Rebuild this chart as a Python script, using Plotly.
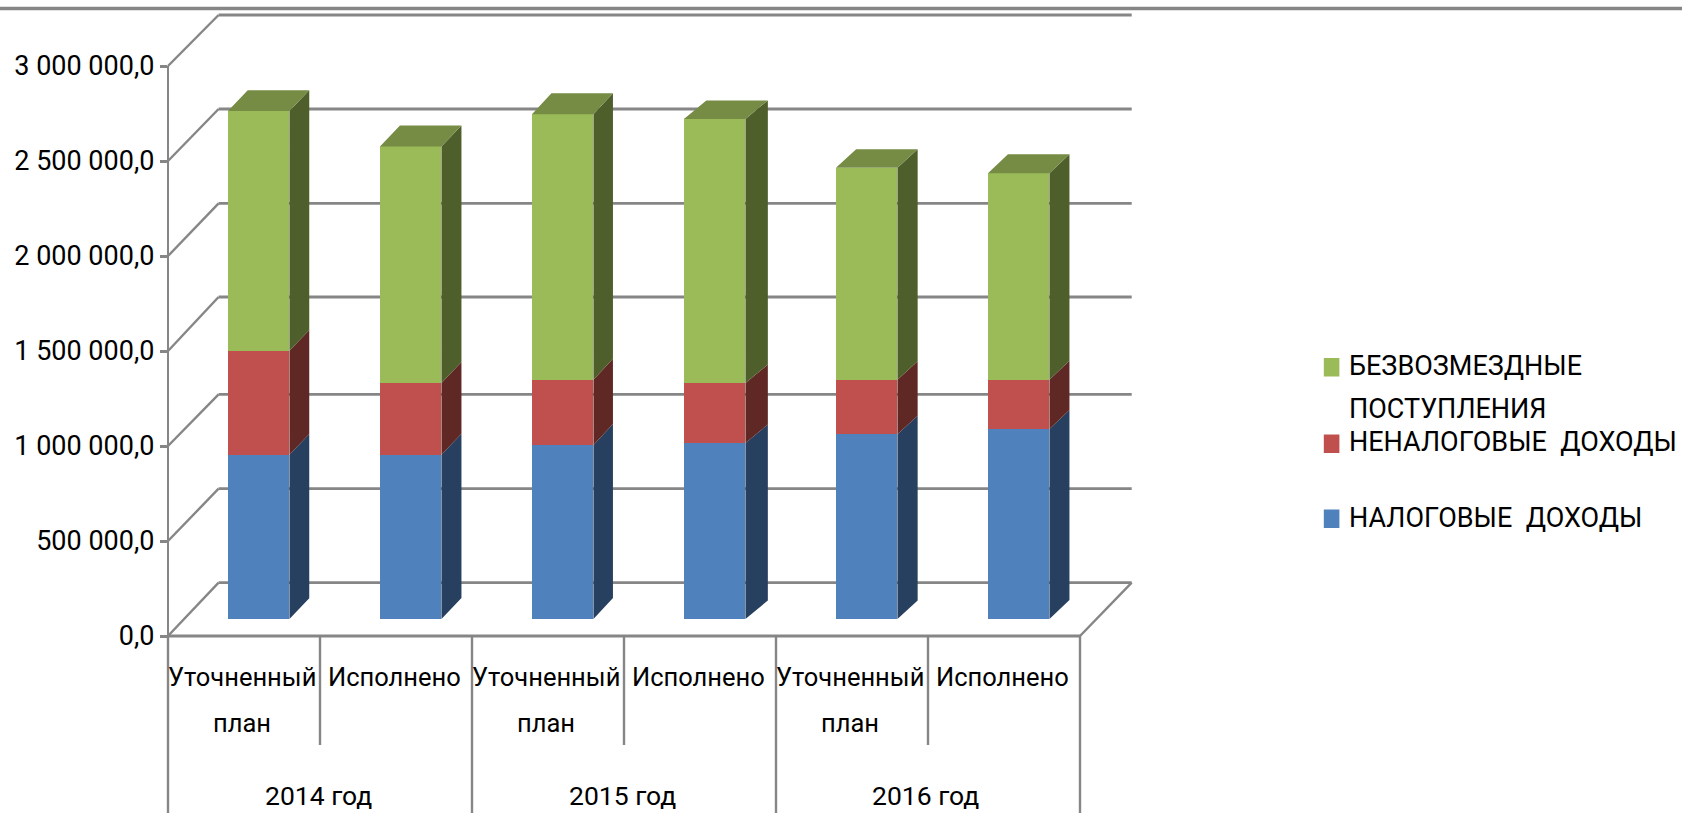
import plotly.graph_objects as go

# ---------- data ----------
plan_labels = [["Уточненный", "план"], ["Исполнено"], ["Уточненный", "план"],
               ["Исполнено"], ["Уточненный", "план"], ["Исполнено"]]
years = ["2014 год", "2015 год", "2016 год"]
tax = [868000, 868000, 920000, 930000, 976000, 1004000]
nontax = [549500, 379000, 345000, 317000, 289000, 261000]
grants = [1267500, 1251000, 1403000, 1396000, 1120000, 1091000]
tick_vals = [0, 500000, 1000000, 1500000, 2000000, 2500000, 3000000]
tick_text = ["0,0", "500 000,0", "1 000 000,0", "1 500 000,0",
             "2 000 000,0", "2 500 000,0", "3 000 000,0"]
legend_names = {"grants": "БЕЗВОЗМЕЗДНЫЕ<br>ПОСТУПЛЕНИЯ",
                "nontax": "НЕНАЛОГОВЫЕ  ДОХОДЫ",
                "tax": "НАЛОГОВЫЕ  ДОХОДЫ"}

# ---------- layout constants (pixels) ----------
W, H = 1682, 813
FONT = "Roboto"
FS = 27
AX_L, AX_R = 168.0, 1080.0
STEP = (AX_R - AX_L) / 6
BACK_L, BACK_R = 218.6, 1131.7
FRONT_0, FRONT_3M = 636.0, 66.0
BACK_Y = [582.7, 488.7, 394.3, 297.0, 203.3, 109.0, 15.0]
BAR_BASE = 619.0
PX_PER_UNIT = 189.2e-6
GRID = "#868686"

xp = lambda p: p / W
yp = lambda p: 1 - p / H

x_rng = [(0 - AX_L) / STEP - 0.5, (W - AX_L) / STEP - 0.5]
y_rng = [(BAR_BASE - H) / PX_PER_UNIT, BAR_BASE / PX_PER_UNIT]
SHIFT = 14.7 / STEP
BAR_W = 61.5 / STEP
# depth of the pseudo-3D box, per column (the source's perspective varies slightly)
DEPTH_X = [d / STEP for d in (19.8, 20.0, 19.5, 22.4, 20.2, 20.0)]
DEPTH_Y = [d / PX_PER_UNIT for d in (20.7, 21.0, 21.0, 18.5, 18.5, 19.0)]

centers = [i + SHIFT for i in range(6)]

series = [
    ("tax", tax, "#4F81BD", "#284060"),
    ("nontax", nontax, "#C0504D", "#602825"),
    ("grants", grants, "#9BBB59", "#4F5F2C"),
]

fig = go.Figure()

# front faces
for key, vals, front, side in series:
    fig.add_trace(go.Bar(x=centers, y=vals, width=BAR_W, name=legend_names[key].replace("<br>", " "),
                         marker=dict(color=front, line=dict(width=0)), showlegend=False))

# side faces
bottom = [0] * 6
for key, vals, front, side in series:
    xs, ys = [], []
    for c, b, v, dx, dy in zip(centers, bottom, vals, DEPTH_X, DEPTH_Y):
        r = c + BAR_W / 2
        xs += [r, r + dx, r + dx, r, r, None]
        ys += [b, b + dy, b + v + dy, b + v, b, None]
    fig.add_trace(go.Scatter(x=xs, y=ys, mode="lines", fill="toself", fillcolor=side,
                             line=dict(width=0, color=side), hoverinfo="skip", showlegend=False))
    bottom = [b + v for b, v in zip(bottom, vals)]

# top faces
xs, ys = [], []
for c, t, dx, dy in zip(centers, bottom, DEPTH_X, DEPTH_Y):
    l, r = c - BAR_W / 2, c + BAR_W / 2
    xs += [l, r, r + dx, l + dx, l, None]
    ys += [t, t, t + dy, t + dy, t, None]
fig.add_trace(go.Scatter(x=xs, y=ys, mode="lines", fill="toself", fillcolor="#768C45",
                         line=dict(width=0, color="#768C45"), hoverinfo="skip", showlegend=False))

# trace that carries the visible value axis
fig.add_trace(go.Scatter(x=[0, 0], y=[0, 3000000], yaxis="y2", mode="none",
                         hoverinfo="skip", showlegend=False))

shapes = []
def line(x0, y0, x1, y1, w=2.6, layer="below"):
    shapes.append(dict(type="line", xref="paper", yref="paper", x0=xp(x0), y0=yp(y0),
                       x1=xp(x1), y1=yp(y1), layer=layer, line=dict(color=GRID, width=w)))

# outer frame line on top
line(0, 8.5, W, 8.5, 3.3)
# walls and gridlines
for i, by in enumerate(BACK_Y):
    fy = FRONT_0 + (FRONT_3M - FRONT_0) * i / 6
    line(AX_L, fy, BACK_L, by, 2.4)
    line(BACK_L, by, BACK_R, by, 2.8)
# floor
line(AX_L, FRONT_0, AX_R, FRONT_0, 2.8)
line(AX_R, FRONT_0, BACK_R, BACK_Y[0], 2.4)
# category separators
line(AX_L, FRONT_0, AX_L, H, 2.4)
for i in range(1, 7):
    bot = H if i % 2 == 0 else 745
    line(AX_L + STEP * i, FRONT_0, AX_L + STEP * i, bot, 2.4)

annos = []
def text(s, x, y, anchor="center", size=FS):
    annos.append(dict(text=s, xref="paper", yref="paper", x=xp(x), y=yp(y), xanchor=anchor,
                      yanchor="middle", showarrow=False, font=dict(family=FONT, size=size, color="#000000")))

for i, lbl in enumerate(plan_labels):
    cx = AX_L + STEP * (i + 0.5) - 2
    for j, part in enumerate(lbl):
        text(part, cx, 676.7 + 46 * j, size=25.5)
for i, y in enumerate(years):
    text(y, AX_L + STEP * (2 * i + 1) - 2, 795, size=26.5)

# legend
def swatch(y0, col):
    shapes.append(dict(type="rect", xref="paper", yref="paper", x0=xp(1323.8), x1=xp(1339.4),
                       y0=yp(y0), y1=yp(y0 + 18.5), fillcolor=col, line=dict(width=0), layer="above"))
LEG_X = 1347
LEG_FS = 27
swatch(358, "#9BBB59")
g1, g2 = legend_names["grants"].split("<br>")
text(g1, LEG_X, 365.5, "left", LEG_FS)
text(g2, LEG_X, 409.3, "left", LEG_FS)
swatch(434.5, "#C0504D")
text(legend_names["nontax"], LEG_X, 441.7, "left", LEG_FS)
swatch(509.5, "#4F81BD")
text(legend_names["tax"], LEG_X, 518, "left", LEG_FS)

fig.update_layout(
    width=W, height=H, autosize=False,
    margin=dict(l=0, r=0, t=0, b=0, pad=0, autoexpand=False),
    paper_bgcolor="white", plot_bgcolor="rgba(0,0,0,0)",
    barmode="stack", showlegend=False,
    shapes=shapes, annotations=annos,
    xaxis=dict(range=x_rng, visible=False, domain=[0, 1], fixedrange=True),
    yaxis=dict(range=y_rng, visible=False, domain=[0, 1], fixedrange=True),
    yaxis2=dict(range=[0, 3000000], domain=[yp(FRONT_0), yp(FRONT_3M)], anchor="free",
                position=xp(AX_L), side="left", tickmode="array", tickvals=tick_vals,
                ticktext=tick_text, ticks="outside", ticklen=7, tickwidth=2.6, tickcolor=GRID,
                showline=True, linecolor=GRID, linewidth=2.4, showgrid=False, zeroline=False,
                tickfont=dict(family=FONT, size=FS, color="#000000"), fixedrange=True),
)

fig.write_html("out.html", post_script="document.body.style.margin='0';",
               config={"displayModeBar": False})
